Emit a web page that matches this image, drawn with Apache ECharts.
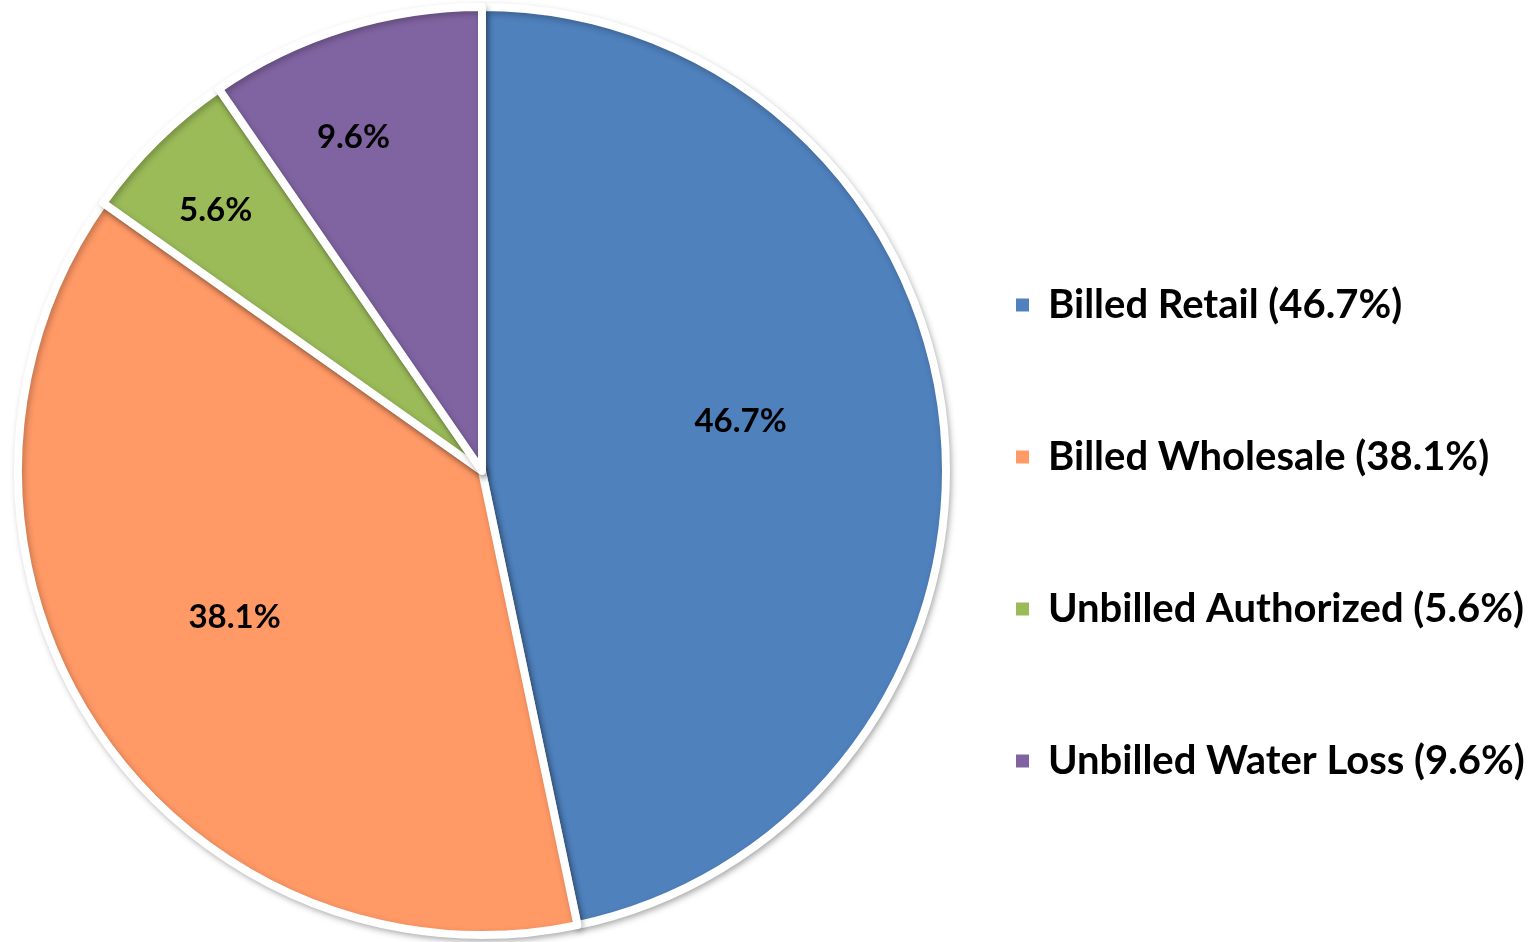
<!DOCTYPE html>
<html>
<head>
<meta charset="utf-8">
<script src="https://cdn.jsdelivr.net/npm/echarts@6/dist/echarts.min.js"></script>
<style>
  html, body { margin: 0; padding: 0; background: #fff; }
  #chart { width: 1536px; height: 942px; }
</style>
</head>
<body>
<div id="chart"></div>
<script>
  // water use breakdown, percent of total
  const categories = ['Billed Retail', 'Billed Wholesale', 'Unbilled Authorized', 'Unbilled Water Loss'];
  const shares = [46.7, 38.1, 5.6, 9.6];
  const colors = ['#4F81BD', '#FF9966', '#9BBB59', '#8064A2'];

  // label placement: distance from centre along the slice bisector, plus a small nudge (px)
  const labelDist = [263, 287, 376, 359];
  const labelNudge = [[-6, -22], [-5, -13], [0, 9], [-21, 12]];

  const R = 464;
  const total = shares.reduce((a, b) => a + b, 0);
  let acc = 0;
  const pieData = categories.map((name, i) => {
    const mid = (acc + shares[i] / 2) / total * Math.PI * 2;
    acc += shares[i];
    const d = labelDist[i] - R / 2;
    return {
      name: name,
      value: shares[i],
      itemStyle: { color: colors[i] },
      label: { offset: [d * Math.sin(mid) + labelNudge[i][0], -d * Math.cos(mid) + labelNudge[i][1]] }
    };
  });

  const chart = echarts.init(document.getElementById('chart'));
  chart.setOption({
    animation: false,
    legend: {
      orient: 'vertical',
      left: 1009,
      top: 280,
      itemWidth: 15,
      itemHeight: 15,
      itemGap: 112,
      icon: 'rect',
      data: categories,
      formatter: name => name + ' (' + shares[categories.indexOf(name)].toFixed(1) + '%)',
      textStyle: { fontFamily: 'Lato', fontWeight: 'bold', fontSize: 40, color: '#000', padding: [0, 0, 0, 13] }
    },
    series: [{
      type: 'pie',
      center: [482, 471],
      radius: [0, R],
      startAngle: 90,
      clockwise: true,
      data: pieData,
      itemStyle: {
        borderColor: '#fff',
        borderWidth: 8,
        shadowBlur: 6,
        shadowColor: 'rgba(0,0,0,0.25)',
        shadowOffsetX: 2,
        shadowOffsetY: 3
      },
      label: {
        position: 'inside',
        formatter: p => p.value.toFixed(1) + '%',
        fontFamily: 'Lato',
        fontWeight: 'bold',
        fontSize: 33,
        color: '#000'
      },
      labelLine: { show: false },
      emphasis: { disabled: true }
    }]
  });
</script>
</body>
</html>
